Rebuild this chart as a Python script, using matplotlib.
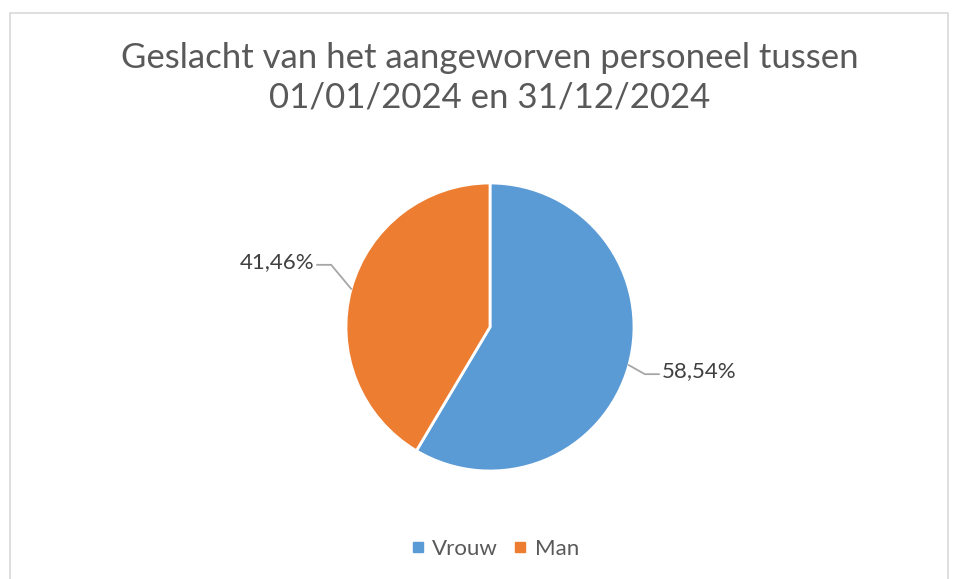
import numpy as np
import matplotlib
matplotlib.use("Agg")
import matplotlib.pyplot as plt
from matplotlib.patches import Rectangle

plt.rcParams['font.family'] = ['Lato', 'DejaVu Sans']

# data
categories = ['Vrouw', 'Man']
values = [58.54, 41.46]
labels = ['58,54%', '41,46%']
colours = ['#5B9BD5', '#ED7D31']
title = 'Geslacht van het aangeworven personeel tussen\n01/01/2024 en 31/12/2024'

W, H = 958, 579
fig = plt.figure(figsize=(W / 100, H / 100), dpi=100)
ax = fig.add_axes([0, 0, 1, 1])

# chart border (bottom runs off the picture)
fig.patches.append(Rectangle((10 / W, -0.05), 938 / W, (H - 13) / H + 0.05,
                             transform=fig.transFigure, fill=False,
                             edgecolor='#D9D9D9', linewidth=1.2))

cx, cy, r = 490, H - 327, 144
wedges, _ = ax.pie(values, colors=colours, startangle=90, counterclock=False,
                   center=(cx, cy), radius=r, frame=True,
                   wedgeprops=dict(edgecolor='white', linewidth=2))
ax.set_xlim(0, W)
ax.set_ylim(0, H)
ax.set_aspect('equal')
ax.axis('off')

# leader lines + labels, positioned from each wedge's mid angle
elbow_shift = [(16, -9), (-20, 24)]
for w, lab, (ex, ey) in zip(wedges, labels, elbow_shift):
    ang = np.deg2rad((w.theta1 + w.theta2) / 2)
    px, py = cx + r * np.cos(ang), cy + r * np.sin(ang)
    sx = 1 if np.cos(ang) > 0 else -1
    qx, qy = px + ex, py + ey
    tx = qx + sx * 14
    ax.plot([px, qx, tx], [py, qy, qy], color='#A6A6A6', lw=1.3,
            solid_joinstyle='miter')
    ax.text(tx + sx * 3, qy + 3, lab, fontsize=16, color='#404040',
            ha='left' if sx > 0 else 'right', va='center')

fig.text(490 / W, 1 - 78 / H, title, ha='center', va='center', fontsize=25,
         color='#595959', linespacing=1.28)

handles = [plt.Line2D([], [], marker='s', ls='', color=c, markersize=7)
           for c in colours]
fig.legend(handles, categories, loc='center', bbox_to_anchor=(493 / W, 1 - 549 / H),
           ncol=2, frameon=False, fontsize=16, labelcolor='#595959',
           handletextpad=0.15, columnspacing=0.5, handlelength=1.0)

fig.savefig('out.png', dpi=100)
